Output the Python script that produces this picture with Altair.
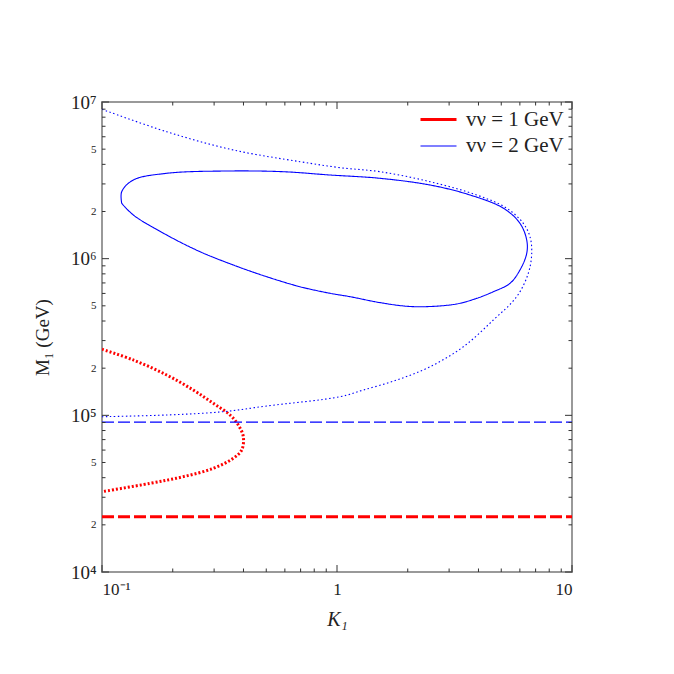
import altair as alt
import pandas as pd

# ---- data ----
series_names = ["vν = 1 GeV", "vν = 2 GeV"]

blue_dot_x = [0.1, 0.1885, 0.362, 0.696, 1.03, 1.524, 2.487, 3.93, 5.275, 6.205, 6.627, 6.738,
              6.517, 5.816, 4.626, 3.447, 2.487, 1.795, 1.294, 1.03, 0.502, 0.3283, 0.1885, 0.1]
blue_dot_y = [8.98e6, 6.46e6, 4.94e6, 4.16e6, 3.81e6, 3.59e6, 3.10e6, 2.55e6, 2.10e6, 1.68e6, 1.38e6, 1.08e6,
              8.07e5, 5.72e5, 4.06e5, 2.74e5, 2.04e5, 1.68e5, 1.45e5, 1.315e5, 1.147e5, 1.055e5, 1.005e5, 9.80e4]

blue_solid_x = [0.1213, 0.1213, 0.1359, 0.1885, 0.3393, 0.589, 0.9337, 1.524, 2.487, 3.681, 5.103, 6.007,
                6.416, 6.416, 6.007, 5.447, 4.626, 3.93, 3.232, 2.408, 1.980, 1.524, 1.136, 0.9337, 0.696,
                0.502, 0.362, 0.2612, 0.1885, 0.1359, 0.1213]
blue_solid_y = [2.257e6, 2.676e6, 3.178e6, 3.506e6, 3.627e6, 3.59e6, 3.42e6, 3.258e6, 2.953e6, 2.55e6, 2.10e6, 1.68e6,
                1.316e6, 1.08e6, 8.47e5, 6.96e5, 6.15e5, 5.58e5, 5.14e5, 4.94e5, 4.97e5, 5.24e5, 5.72e5, 6.01e5, 6.62e5,
                7.67e5, 9.11e5, 1.108e6, 1.416e6, 1.9e6, 2.257e6]

red_dot_x = [0.1, 0.1359, 0.1885, 0.2446, 0.2976, 0.3505, 0.3802, 0.3993, 0.3932, 0.362, 0.2976, 0.2218, 0.16, 0.1]
red_dot_y = [2.64e5, 2.256e5, 1.809e5, 1.45e5, 1.193e5, 1.005e5, 8.68e4, 7.31e4, 6.01e4, 5.32e4, 4.59e4, 4.06e4,
             3.68e4, 3.255e4]

dash_x = [0.1, 10]
blue_dash_y = [9.05e4, 9.05e4]
red_dash_y = [2.25e4, 2.25e4]

x_major = [0.1, 1, 10]
x_minor = [0.2, 0.3, 0.4, 0.5, 0.6, 0.7, 0.8, 0.9, 2, 3, 4, 5, 6, 7, 8, 9]
y_major = [1e4, 1e5, 1e6, 1e7]
y_minor = [m * 10 ** e for e in (4, 5, 6) for m in (2, 3, 4, 5, 6, 7, 8, 9)]
y_labels = [1e4, 2e4, 5e4, 1e5, 2e5, 5e5, 1e6, 2e6, 5e6, 1e7]

rows = []
def add(id_, series, style, xs, ys):
    for i, (a, b) in enumerate(zip(xs, ys)):
        rows.append(dict(id=id_, series=series, style=style, order=i, x=a, y=b))

add("rdash", series_names[0], "dashR", dash_x, red_dash_y)
add("rdot", series_names[0], "dotR", red_dot_x, red_dot_y)
add("bdash", series_names[1], "dashB", dash_x, blue_dash_y)
add("bdot", series_names[1], "dotB", blue_dot_x, blue_dot_y)
add("bsolid", series_names[1], "solid", blue_solid_x, blue_solid_y)
df = pd.DataFrame(rows)

W = H = 470
xscale = alt.Scale(type="log", domain=[0.1, 10])
yscale = alt.Scale(type="log", domain=[1e4, 1e7])

legend_opts = dict(
    title=None, orient="none", legendX=325, legendY=6,
    symbolType="M-1.8,0L1.8,0", symbolSize=400, labelOffset=16,
    labelFont="Liberation Serif", labelFontSize=21, rowPadding=5, padding=0,
    labelColor="#222",
)

lines = alt.Chart(df).mark_line(strokeCap="butt", clip=True, interpolate="catmull-rom").encode(
    x=alt.X("x:Q", scale=xscale, axis=alt.Axis(
        title="K₁", values=x_major,
        labelExpr="datum.value < 0.5 ? '10⁻¹' : (datum.value < 5 ? '1' : '10')",
        labelFontSize=17,
        labelPadding=9, titleFontSize=20, titleFontStyle="italic",
        titleY=53, titleBaseline="alphabetic")),
    y=alt.Y("y:Q", scale=yscale, axis=alt.Axis(
        title="M₁ (GeV)", values=y_labels,
        labelExpr=("datum.value == 10000 ? '10⁴' : datum.value == 100000 ? '10⁵' : "
                   "datum.value == 1000000 ? '10⁶' : datum.value == 10000000 ? '10⁷' : "
                   "(datum.value == 20000 || datum.value == 200000 || datum.value == 2000000 ? '2' : '5')"),
        labelFontSize={"condition": {"test": "datum.value == 10000 || datum.value == 100000 || datum.value == 1000000 || datum.value == 10000000", "value": 19}, "value": 11},
        labelPadding=6, titleFontSize=19, titleX=-54, titleY=235, titleAngle=-90,
        titleBaseline="alphabetic", titleAlign="center")),
    color=alt.Color("series:N", scale=alt.Scale(domain=series_names, range=["#ff0000", "#0000ff"]),
                    legend=alt.Legend(**legend_opts)),
    strokeWidth=alt.StrokeWidth("series:N", scale=alt.Scale(type="point", padding=0, domain=series_names, range=[3, 1.1]),
                                legend=alt.Legend(**legend_opts)),
    strokeDash=alt.StrokeDash("style:N", scale=alt.Scale(
        domain=["solid", "dotR", "dotB", "dashR", "dashB"],
        range=[[1, 0], [2, 2], [1.5, 2.5], [12, 4], [12, 4]]), legend=None),
    detail="id:N",
    order="order:Q",
)

tick_color = "#333333"

def xticks(vals, length, top):
    d = pd.DataFrame({"x": vals})
    if top:
        enc = dict(y=alt.value(0), y2=alt.value(length))
    else:
        enc = dict(y=alt.value(H), y2=alt.value(H - length))
    return alt.Chart(d).mark_rule(color=tick_color, strokeWidth=1).encode(
        x=alt.X("x:Q", scale=xscale), **enc)

def yticks(vals, length, right):
    d = pd.DataFrame({"y": vals})
    if right:
        enc = dict(x=alt.value(W), x2=alt.value(W - length))
    else:
        enc = dict(x=alt.value(0), x2=alt.value(length))
    return alt.Chart(d).mark_rule(color=tick_color, strokeWidth=1).encode(
        y=alt.Y("y:Q", scale=yscale), **enc)

ticks = [
    xticks(x_major, 7, False), xticks(x_minor, 3.5, False),
    xticks(x_major, 7, True), xticks(x_minor, 3.5, True),
    yticks(y_major, 7, False), yticks(y_minor, 3.5, False),
    yticks(y_major, 7, True), yticks(y_minor, 3.5, True),
]

chart = alt.layer(lines, *ticks).properties(
    width=W, height=H,
    autosize=alt.AutoSizeParams(type="none"),
    padding={"left": 94, "top": 94, "right": 94, "bottom": 94},
    background="white",
).configure_view(
    stroke="#999999", strokeWidth=2
).configure_axis(
    domain=False, ticks=False, grid=False,
    labelFont="Liberation Serif", titleFont="Liberation Serif",
    labelColor="#222", titleColor="#222", titleFontWeight="normal",
)

chart.save("out.html", embed_options={"renderer": "svg", "actions": False})
